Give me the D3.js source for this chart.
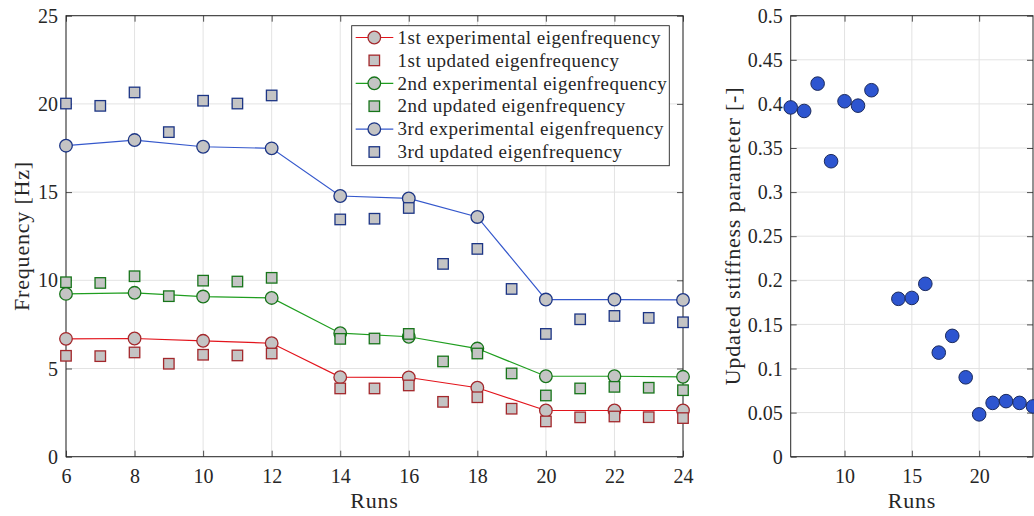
<!DOCTYPE html>
<html><head><meta charset="utf-8">
<script src="https://cdn.jsdelivr.net/npm/d3@7"></script>
<style>body{margin:0;background:#fff}svg{display:block}</style>
</head><body><svg id="c" width="1034" height="516"></svg>
<script>
const expRuns = [6, 8, 10, 12, 14, 16, 18, 20, 22, 24];
const updRuns = [6, 7, 8, 9, 10, 11, 12, 14, 15, 16, 17, 18, 19, 20, 21, 22, 23, 24];
const exp1 = [6.68, 6.70, 6.57, 6.43, 4.51, 4.49, 3.91, 2.62, 2.62, 2.62];
const upd1 = [5.72, 5.70, 5.91, 5.27, 5.78, 5.74, 5.85, 3.87, 3.87, 4.04, 3.11, 3.37, 2.72, 2.00, 2.23, 2.28, 2.24, 2.19];
const exp2 = [9.23, 9.29, 9.08, 9.00, 7.00, 6.80, 6.13, 4.56, 4.56, 4.53];
const upd2 = [9.89, 9.85, 10.23, 9.10, 9.98, 9.93, 10.14, 6.68, 6.70, 6.96, 5.40, 5.85, 4.72, 3.47, 3.87, 3.96, 3.91, 3.77];
const exp3 = [17.63, 17.95, 17.57, 17.48, 14.78, 14.64, 13.59, 8.91, 8.91, 8.89];
const upd3 = [20.02, 19.89, 20.65, 18.40, 20.18, 20.02, 20.48, 13.45, 13.49, 14.10, 10.93, 11.78, 9.51, 6.96, 7.79, 7.98, 7.87, 7.62];
const stiffRuns = [6, 7, 8, 9, 10, 11, 12, 14, 15, 16, 17, 18, 19, 20, 21, 22, 23, 24];
const stiffness = [0.396, 0.392, 0.423, 0.335, 0.403, 0.398, 0.4155, 0.179, 0.180, 0.196, 0.118, 0.137, 0.090, 0.048, 0.061, 0.063, 0.061, 0.057];
const leftXTicks = [6, 8, 10, 12, 14, 16, 18, 20, 22, 24];
const leftYTicks = [0, 5, 10, 15, 20, 25];
const rightXTicks = [10, 15, 20];
const rightYTicks = [0, 0.05, 0.1, 0.15, 0.2, 0.25, 0.3, 0.35, 0.4, 0.45, 0.5];
const legendLabels = ["1st experimental eigenfrequency", "1st updated eigenfrequency",
  "2nd experimental eigenfrequency", "2nd updated eigenfrequency",
  "3rd experimental eigenfrequency", "3rd updated eigenfrequency"];

const FONT = "Liberation Serif";
const svg = d3.select("#c");
const AX = "#262626", GRID = "#e3e3e3", FILL = "#c4c4c4";
const modes = [
  {exp: exp1, upd: upd1, line: "#e3141c", edge: "#a3282c"},
  {exp: exp2, upd: upd2, line: "#1f9e1f", edge: "#17751a"},
  {exp: exp3, upd: upd3, line: "#3558cc", edge: "#1c3585"}
];

function label(sel, size, ls) {
  return sel.attr("font-family", FONT).style("font-family", FONT)
    .style("font-size", size + "px").style("letter-spacing", (ls || 0) + "px").attr("fill", AX);
}

function frame(x, y, xt, yt, fmtY) {
  const [x0, x1] = x.range(), [y0, y1] = y.range();
  const g = svg.append("g");
  g.selectAll(".gx").data(xt).join("line").attr("x1", d => x(d)).attr("x2", d => x(d))
    .attr("y1", y0).attr("y2", y1).attr("stroke", GRID).attr("stroke-width", 1);
  g.selectAll(".gy").data(yt).join("line").attr("y1", d => y(d)).attr("y2", d => y(d))
    .attr("x1", x0).attr("x2", x1).attr("stroke", GRID).attr("stroke-width", 1);
  const ax = svg.append("g").attr("transform", `translate(0,${y0})`)
    .call(d3.axisBottom(x).tickValues(xt).tickSize(-6).tickPadding(12).tickFormat(d3.format("d")));
  const axT = svg.append("g").attr("transform", `translate(0,${y1})`)
    .call(d3.axisTop(x).tickValues(xt).tickSize(-6).tickFormat(""));
  const ay = svg.append("g").attr("transform", `translate(${x0},0)`)
    .call(d3.axisLeft(y).tickValues(yt).tickSize(-6).tickPadding(8).tickFormat(fmtY));
  const ayR = svg.append("g").attr("transform", `translate(${x1},0)`)
    .call(d3.axisRight(y).tickValues(yt).tickSize(-6).tickFormat(""));
  [ax, axT, ay, ayR].forEach(a => {
    a.attr("font-family", FONT);
    a.select(".domain").remove();
    a.selectAll("line").attr("stroke", AX).attr("stroke-width", 0.8);
    label(a.selectAll("text"), 20);
  });
  ax.selectAll("text").attr("dy", "0.71em");
  ay.selectAll("text").attr("dy", "0.33em");
  svg.append("rect").attr("x", x0).attr("y", y1).attr("width", x1 - x0).attr("height", y0 - y1)
    .attr("fill", "none").attr("stroke", AX).attr("stroke-width", 1);
}

// ---------- left chart ----------
const xL = d3.scaleLinear([6, 24], [66, 683]);
const yL = d3.scaleLinear([0, 25], [456.7, 15.7]);
frame(xL, yL, leftXTicks, leftYTicks, d3.format("d"));

const line = d3.line().x(d => xL(d[0])).y(d => yL(d[1]));
const sq = 10.5, cr = 6.3;
modes.forEach(m => {
  const ed = expRuns.map((r, i) => [r, m.exp[i]]);
  const ud = updRuns.map((r, i) => [r, m.upd[i]]);
  svg.append("path").attr("d", line(ed)).attr("fill", "none").attr("stroke", m.line).attr("stroke-width", 1.2);
  svg.append("g").selectAll("circle").data(ed).join("circle")
    .attr("cx", d => xL(d[0])).attr("cy", d => yL(d[1])).attr("r", cr)
    .attr("fill", FILL).attr("stroke", m.edge).attr("stroke-width", 1.3);
  svg.append("g").selectAll("rect").data(ud).join("rect")
    .attr("x", d => xL(d[0]) - sq / 2).attr("y", d => yL(d[1]) - sq / 2)
    .attr("width", sq).attr("height", sq)
    .attr("fill", FILL).attr("stroke", m.edge).attr("stroke-width", 1.3);
});

// legend
const lg = svg.append("g");
lg.append("rect").attr("x", 351.7).attr("y", 25.7).attr("width", 317.6).attr("height", 140)
  .attr("fill", "#fff").attr("stroke", AX).attr("stroke-width", 0.9);
legendLabels.forEach((lab, i) => {
  const m = modes[Math.floor(i / 2)];
  const yy = 37.5 + i * 22.9;
  if (i % 2 === 0) {
    lg.append("line").attr("x1", 355.7).attr("x2", 393.3).attr("y1", yy).attr("y2", yy)
      .attr("stroke", m.line).attr("stroke-width", 1.2);
    lg.append("circle").attr("cx", 374.3).attr("cy", yy).attr("r", cr)
      .attr("fill", FILL).attr("stroke", m.edge).attr("stroke-width", 1.3);
  } else {
    lg.append("rect").attr("x", 374.3 - sq / 2).attr("y", yy - sq / 2).attr("width", sq).attr("height", sq)
      .attr("fill", FILL).attr("stroke", m.edge).attr("stroke-width", 1.3);
  }
  label(lg.append("text").attr("x", 397.5).attr("y", yy).attr("dy", "0.33em"), 19, 0.5).text(lab);
});

label(svg.append("text").attr("transform", `translate(22,236) rotate(-90)`).attr("text-anchor", "middle")
  .attr("dy", "0.33em"), 22, 0.8).text("Frequency [Hz]");
label(svg.append("text").attr("x", 374.5).attr("y", 501).attr("text-anchor", "middle").attr("dy", "0.33em"),
  22, 0.8).text("Runs");

// ---------- right chart ----------
const xR = d3.scaleLinear([6, 24], [790.7, 1033]);
const yR = d3.scaleLinear([0, 0.5], [456.7, 15.7]);
frame(xR, yR, rightXTicks, rightYTicks, d => d === 0 ? "0" : String(+d.toFixed(2)));
svg.append("g").selectAll("circle").data(stiffRuns.map((r, i) => [r, stiffness[i]])).join("circle")
  .attr("cx", d => xR(d[0])).attr("cy", d => yR(d[1])).attr("r", 6.8)
  .attr("fill", "#2d55d0").attr("stroke", "#1b2a5c").attr("stroke-width", 1);
label(svg.append("text").attr("transform", `translate(733,236) rotate(-90)`).attr("text-anchor", "middle")
  .attr("dy", "0.33em"), 22, 0.8).text("Updated stiffness parameter [-]");
label(svg.append("text").attr("x", 912).attr("y", 501).attr("text-anchor", "middle").attr("dy", "0.33em"),
  22, 0.8).text("Runs");
</script></body></html>
